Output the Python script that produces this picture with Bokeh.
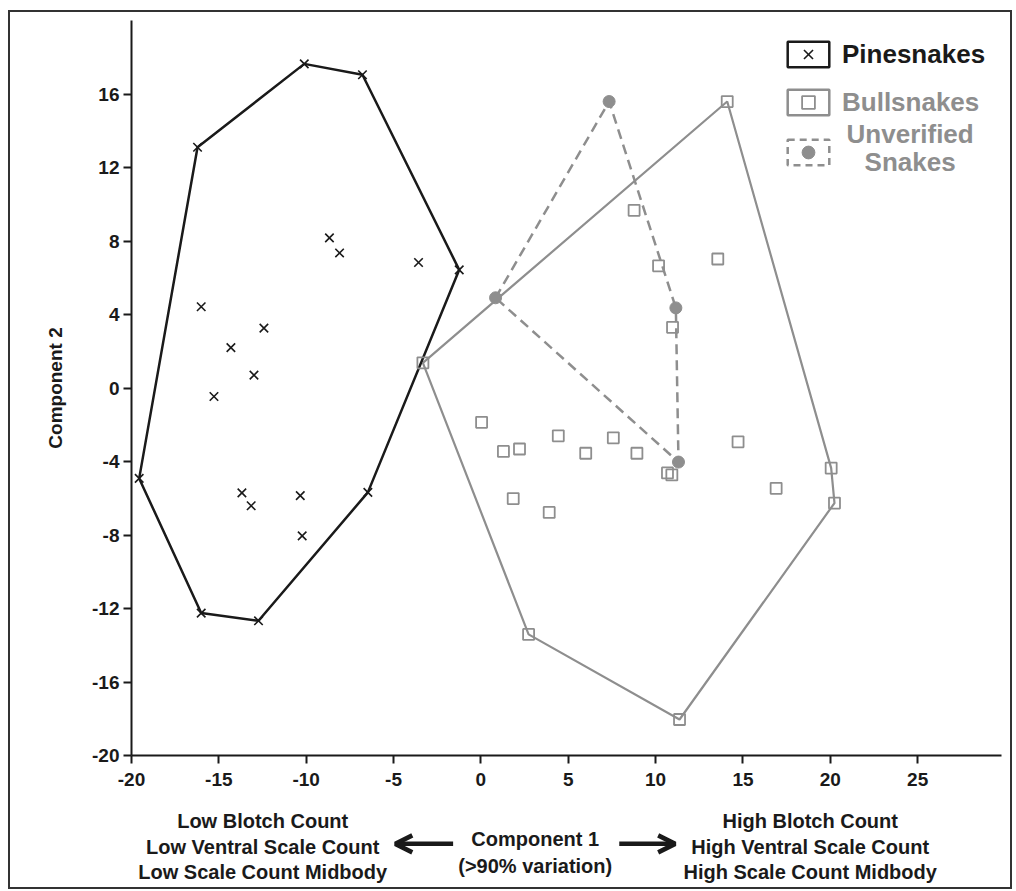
from bokeh.plotting import figure
from bokeh.layouts import column
from bokeh.models import (ColumnDataSource, FixedTicker, Label, Arrow, OpenHead,
                          Legend, LegendItem, Range1d)
from bokeh.embed import file_html
from bokeh.resources import INLINE

# ---------------- data ----------------
pine_x = [-19.56, -16.22, -10.11, -6.78, -1.24, -6.47, -12.73, -16.01,
          -8.67, -8.09, -3.57, -16.01, -12.42, -14.31, -12.99, -15.28,
          -13.68, -13.15, -10.34, -10.23]
pine_y = [-4.92, 13.10, 17.64, 17.05, 6.43, -5.68, -12.67, -12.25,
          8.17, 7.35, 6.83, 4.42, 3.26, 2.20, 0.70, -0.46,
          -5.71, -6.41, -5.86, -8.05]
pine_hull = [0, 1, 2, 3, 4, 5, 6, 7, 0]

bull_x = [-3.32, 14.10, 20.05, 20.24, 11.37, 2.73, 8.77, 10.17, 13.56, 10.97,
          0.04, 1.29, 2.21, 4.43, 6.00, 7.58, 8.93, 10.68, 10.93, 14.72,
          16.90, 1.85, 3.91]
bull_y = [1.37, 15.59, -4.36, -6.26, -18.04, -13.41, 9.67, 6.65, 7.02, 3.30,
          -1.87, -3.45, -3.32, -2.60, -3.55, -2.71, -3.55, -4.62, -4.73, -2.93,
          -5.46, -6.02, -6.77]
bull_hull = [0, 1, 2, 3, 4, 5, 0]

unv_x = [0.84, 7.34, 11.16, 11.31]
unv_y = [4.91, 15.59, 4.36, -4.03]
unv_links = [0, 1, 2, 3, 0]

x_ticks = [-20, -15, -10, -5, 0, 5, 10, 15, 20, 25]
y_ticks = [-20, -16, -12, -8, -4, 0, 4, 8, 12, 16]

series_names = ["Pinesnakes", "Bullsnakes", "Unverified", "Snakes"]
left_lines = ["Low Blotch Count", "Low Ventral Scale Count", "Low Scale Count Midbody"]
right_lines = ["High Blotch Count", "High Ventral Scale Count", "High Scale Count Midbody"]
center_lines = ["Component 1", "(>90% variation)"]
y_title = "Component 2"

# ---------------- styles ----------------
BLACK = "#1a1a1a"
GRAY = "#8e8e8e"
FONT = "Liberation Sans"
NAN = float("nan")

p = figure(width=1000, height=785, output_backend="svg", toolbar_location=None,
           x_range=Range1d(-20, 29.8), y_range=Range1d(-20, 20),
           min_border_left=121, min_border_right=9, min_border_top=8,
           min_border_bottom=42)
p.background_fill_color = "white"
p.border_fill_color = "white"
p.outline_line_color = None
p.xgrid.grid_line_color = None
p.ygrid.grid_line_color = None

for ax in (p.xaxis[0], p.yaxis[0]):
    ax.axis_line_color = BLACK
    ax.axis_line_width = 2
    ax.major_tick_line_color = BLACK
    ax.major_tick_line_width = 2
    ax.major_tick_in = 0
    ax.major_tick_out = 8
    ax.minor_tick_line_color = None
    ax.major_label_text_font = FONT
    ax.major_label_text_font_style = "bold"
    ax.major_label_text_font_size = "19px"
    ax.major_label_text_color = BLACK

p.xaxis.ticker = FixedTicker(ticks=x_ticks)
p.yaxis.ticker = FixedTicker(ticks=y_ticks)
p.xaxis.major_label_overrides = {t: str(t) for t in x_ticks}
p.yaxis.major_label_overrides = {t: str(t) for t in y_ticks}
p.xaxis.major_label_standoff = 9
p.yaxis.major_label_standoff = 4
p.yaxis.axis_label = y_title
p.yaxis.axis_label_text_font = FONT
p.yaxis.axis_label_text_font_style = "bold"
p.yaxis.axis_label_text_font_size = "19px"
p.yaxis.axis_label_text_color = BLACK
p.yaxis.axis_label_standoff = 23

# ---------------- hulls ----------------
bull_hx = [bull_x[i] for i in bull_hull]
bull_hy = [bull_y[i] for i in bull_hull]
p.line(bull_hx, bull_hy, line_color=GRAY, line_width=2.2)

pine_hx = [pine_x[i] for i in pine_hull]
pine_hy = [pine_y[i] for i in pine_hull]
p.line(pine_hx, pine_hy, line_color=BLACK, line_width=2.5)

unv_lx = [unv_x[i] for i in unv_links]
unv_ly = [unv_y[i] for i in unv_links]
p.line(unv_lx, unv_ly, line_color=GRAY, line_width=2.5, line_dash="10 6")

# ---------------- points ----------------
r_pine = p.scatter(pine_x, pine_y, marker="x", size=12, line_color=BLACK, line_width=1.6)
r_bull = p.scatter(bull_x, bull_y, marker="square", size=11, line_color=GRAY,
                   line_width=1.8, fill_color="white", fill_alpha=0)
r_unv = p.scatter(unv_x, unv_y, marker="circle", size=12, line_color=GRAY,
                  fill_color=GRAY)

# ---------------- legend ----------------
def key_box(color, dash="solid"):
    src = ColumnDataSource(dict(left=[NAN], right=[NAN], top=[NAN], bottom=[NAN]))
    return p.quad(source=src, fill_alpha=0, line_color=color, line_width=2.5,
                  line_dash=dash)

box_pine = key_box(BLACK)
box_bull = key_box(GRAY)
box_unv = key_box(GRAY, "7 5")

def make_legend(label, renderers, color, vy):
    lg = Legend(items=[LegendItem(label=label, renderers=renderers)],
                location=(651, vy), border_line_color=None, background_fill_alpha=0,
                padding=0, margin=0, spacing=0, glyph_width=52, glyph_height=32,
                label_standoff=8, label_text_font=FONT, label_text_font_style="bold",
                label_text_font_size="26px", label_text_color=color)
    p.add_layout(lg)

make_legend(series_names[0], [box_pine, r_pine], BLACK, 685)
make_legend(series_names[1], [box_bull, r_bull], GRAY, 637)
make_legend(" ", [box_unv, r_unv], GRAY, 587)

for txt, yy in zip(series_names[2:], [13.83, 12.29]):
    p.add_layout(Label(x=24.57, y=yy, text=txt, text_align="center", text_baseline="middle",
                       text_font=FONT, text_font_style="bold", text_font_size="26px",
                       text_color=GRAY))

# ---------------- bottom annotation panel ----------------
p2 = figure(width=1000, height=90, output_backend="svg", toolbar_location=None,
            x_range=p.x_range, y_range=Range1d(-27.71, -22.76),
            x_axis_type=None, y_axis_type=None,
            min_border_left=121, min_border_right=9, min_border_top=0,
            min_border_bottom=0)
p2.outline_line_color = None
p2.background_fill_color = "white"
p2.border_fill_color = "white"
p2.xgrid.grid_line_color = None
p2.ygrid.grid_line_color = None

def add_lines(lines, x, ys):
    for txt, yy in zip(lines, ys):
        p2.add_layout(Label(x=x, y=yy, text=txt, text_align="center", text_baseline="middle",
                            text_font=FONT, text_font_style="bold", text_font_size="20px",
                            text_color=BLACK))

add_lines(left_lines, -12.49, [-24.03, -25.49, -26.86])
add_lines(right_lines, 18.85, [-24.03, -25.49, -26.86])
add_lines(center_lines, 3.11, [-25.03, -26.5])

p2.add_layout(Arrow(end=OpenHead(size=17, line_width=4.5, line_color=BLACK),
                    x_start=-1.59, y_start=-25.31, x_end=-4.9, y_end=-25.31,
                    line_width=4.5, line_color=BLACK))
p2.add_layout(Arrow(end=OpenHead(size=17, line_width=4.5, line_color=BLACK),
                    x_start=7.92, y_start=-25.31, x_end=11.12, y_end=-25.31,
                    line_width=4.5, line_color=BLACK))

lay = column(p, p2, spacing=0)
lay.styles = {"border": "2px solid #333333", "margin-left": "8px", "margin-top": "10px"}

open("out.html", "w").write(file_html(lay, INLINE))
